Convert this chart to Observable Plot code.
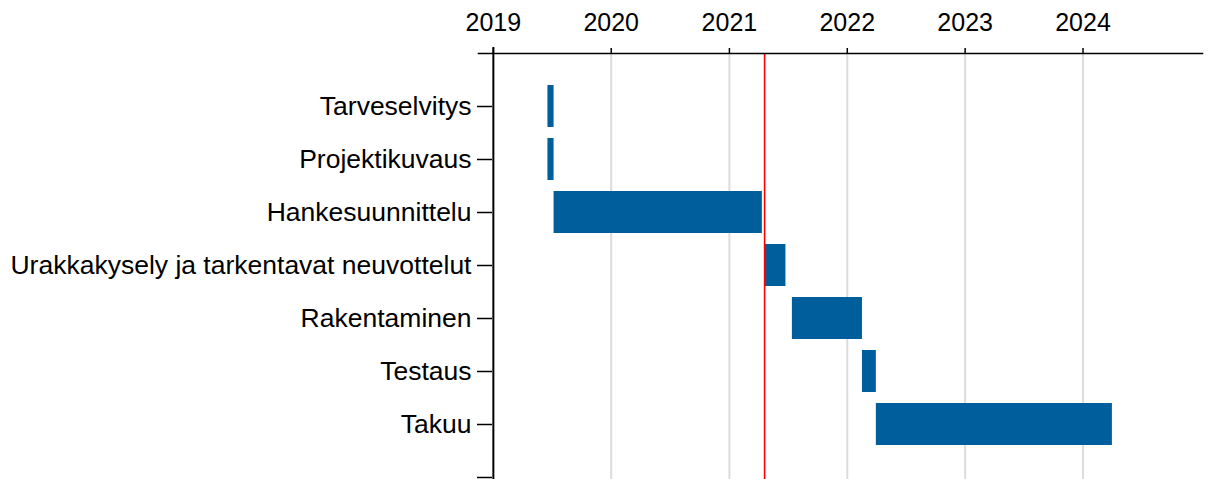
<!DOCTYPE html>
<html>
<head>
<meta charset="utf-8">
<script src="https://cdn.jsdelivr.net/npm/d3@7"></script>
<script src="https://cdn.jsdelivr.net/npm/@observablehq/plot@0.6"></script>
<style>
  html, body { margin: 0; padding: 0; overflow: hidden; background: #fff; }
</style>
</head>
<body>
<div id="chart"></div>
<script>
const tasks = ["Tarveselvitys", "Projektikuvaus", "Hankesuunnittelu", "Urakkakysely ja tarkentavat neuvottelut", "Rakentaminen", "Testaus", "Takuu"];
const starts = ["2019-06-19", "2019-06-19", "2019-07-08", "2021-04-21", "2021-07-15", "2022-02-17", "2022-04-01"];
const ends   = ["2019-07-08", "2019-07-08", "2021-04-13", "2021-06-25", "2022-02-17", "2022-04-01", "2024-04-01"];
const todayDate = "2021-04-20";
const tickYears = [2019, 2020, 2021, 2022, 2023, 2024];
const gridYears = [2020, 2021, 2022, 2023, 2024];

const data = tasks.map((t, i) => ({task: t, start: new Date(starts[i]), end: new Date(ends[i])}));
const yr = y => new Date(Date.UTC(y, 0, 1));

const chart = Plot.plot({
  width: 1210,
  height: 530,
  marginLeft: 478,
  marginRight: 8,
  marginTop: 53,
  marginBottom: 0,
  style: {fontFamily: "'Liberation Sans', Arial, sans-serif", color: "#000", background: "#fff"},
  x: {type: "utc", domain: [new Date("2018-11-16"), new Date("2025-01-05")]},
  y: {domain: [...tasks, " "], paddingInner: 0.208, paddingOuter: 0.603, align: 0.5},
  marks: [
    Plot.ruleX(gridYears, {x: yr, stroke: "#dcdcdc", strokeWidth: 2}),
    Plot.barX(data, {x1: "start", x2: "end", y: "task", fill: "#005e9c"}),
    Plot.ruleX([new Date(todayDate)], {stroke: "#ff0000", strokeWidth: 1.6}),
    Plot.ruleX([yr(2019)], {stroke: "#000", strokeWidth: 2, insetTop: -6}),
    Plot.frame({anchor: "top", stroke: "#000", strokeWidth: 1.6}),
    Plot.axisX({anchor: "top", ticks: tickYears.map(yr), tickFormat: "%Y", tickSize: 6, tickPadding: 17, fontSize: 25, stroke: "#000", strokeWidth: 1.5, label: null}),
    Plot.axisY({anchor: "left", dx: 14, tickSize: 15, tickPadding: 6, fontSize: 26.5, stroke: "#000", strokeWidth: 1.5, label: null})
  ]
});
document.getElementById("chart").appendChild(chart);
</script>
</body>
</html>
